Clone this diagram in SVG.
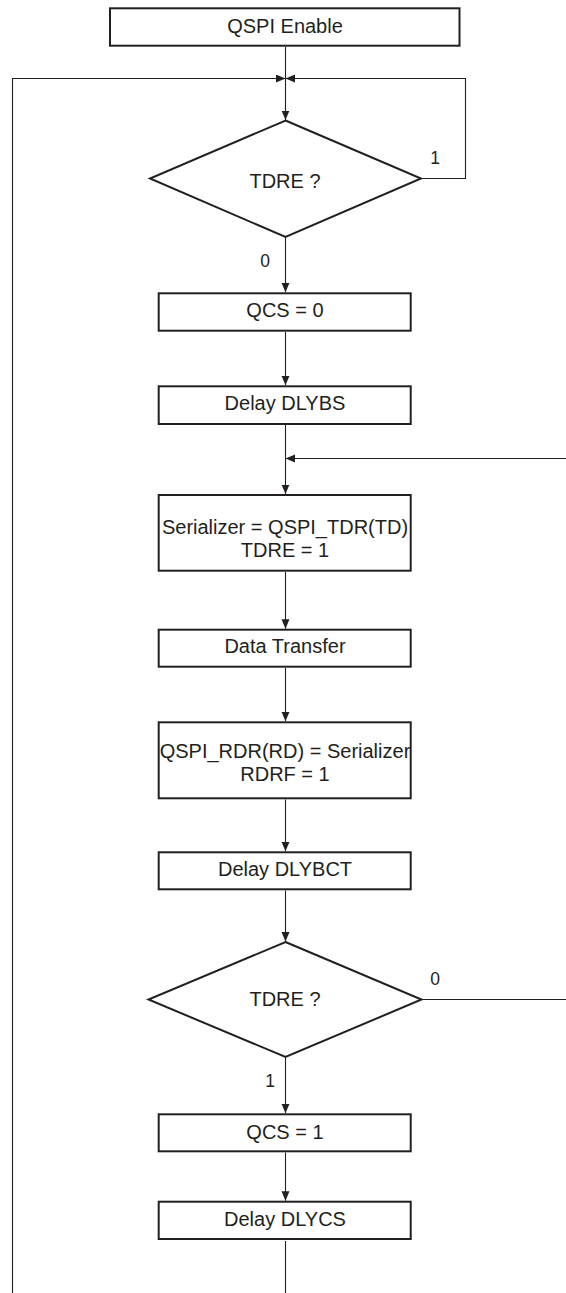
<svg xmlns="http://www.w3.org/2000/svg" width="566" height="1293" viewBox="0 0 566 1293">
<style>
.box{fill:#fff;stroke:#231f20;stroke-width:2}
.t{font-family:"Liberation Sans",Arial,sans-serif;font-size:20px;fill:#231f20;text-anchor:middle}
.l{font-family:"Liberation Sans",Arial,sans-serif;font-size:17.5px;fill:#231f20;text-anchor:middle}
.c{fill:none;stroke:#231f20;stroke-width:1.1}
</style>
<defs>
<marker id="ah" markerUnits="userSpaceOnUse" markerWidth="10" markerHeight="9" refX="9.5" refY="4" orient="auto">
<path d="M0,0 L9.5,4 L0,8 z" fill="#231f20"/>
</marker>
</defs>
<rect width="566" height="1293" fill="#fff"/>
<g id="connectors">
<path class="c" d="M285.5,47 V120" marker-end="url(#ah)"/>
<path class="c" d="M285.5,1241 V1300 H12.5 V78.5 H285.5" marker-end="url(#ah)"/>
<path class="c" d="M421,178.5 H465.5 V78.5 H285.5" marker-end="url(#ah)"/>
<path class="c" d="M285.5,237 V292.3" marker-end="url(#ah)"/>
<path class="c" d="M285.5,332 V385.3" marker-end="url(#ah)"/>
<path class="c" d="M285.5,425 V494" marker-end="url(#ah)"/>
<path class="c" d="M421.5,999.5 H575 V458.5 H285.5" marker-end="url(#ah)"/>
<path class="c" d="M285.5,572 V628.7" marker-end="url(#ah)"/>
<path class="c" d="M285.5,668 V721.3" marker-end="url(#ah)"/>
<path class="c" d="M285.5,799.5 V851.3" marker-end="url(#ah)"/>
<path class="c" d="M285.5,890.5 V941.5" marker-end="url(#ah)"/>
<path class="c" d="M285.5,1057 V1113.3" marker-end="url(#ah)"/>
<path class="c" d="M285.5,1152.5 V1200.7" marker-end="url(#ah)"/>
<text class="l" x="435" y="164">1</text>
<text class="l" x="265" y="267">0</text>
<text class="l" x="435" y="985">0</text>
<text class="l" x="270" y="1087">1</text>
</g>
<g id="qspi-enable">
<rect class="box" x="110" y="8.3" width="349.5" height="37.4"/>
<text class="t" x="285" y="32.5">QSPI Enable</text>
</g>
<g id="tdre-1">
<polygon class="box" points="285.5,120.5 421,178.5 285.5,237 150,178.5"/>
<text class="t" x="285" y="187.5">TDRE ?</text>
</g>
<g id="qcs-0">
<rect class="box" x="158.7" y="293.3" width="252" height="37.4"/>
<text class="t" x="285" y="317">QCS = 0</text>
</g>
<g id="delay-dlybs">
<rect class="box" x="158.7" y="386.3" width="252" height="37.7"/>
<text class="t" x="285" y="410">Delay DLYBS</text>
</g>
<g id="serializer">
<rect class="box" x="158.7" y="495" width="252" height="75.7"/>
<text class="t" x="285" y="533.5">Serializer = QSPI_TDR(TD)</text>
<text class="t" x="285" y="557.3">TDRE = 1</text>
</g>
<g id="data-transfer">
<rect class="box" x="158.7" y="629.7" width="252" height="37"/>
<text class="t" x="285" y="653">Data Transfer</text>
</g>
<g id="rdr">
<rect class="box" x="158.7" y="722.3" width="252" height="76"/>
<text class="t" x="285" y="757.5">QSPI_RDR(RD) = Serializer</text>
<text class="t" x="285" y="781">RDRF = 1</text>
</g>
<g id="delay-dlybct">
<rect class="box" x="158.7" y="852.3" width="252" height="37"/>
<text class="t" x="285" y="876">Delay DLYBCT</text>
</g>
<g id="tdre-2">
<polygon class="box" points="285.5,942 421.5,999.5 285.5,1057 148.5,999.5"/>
<text class="t" x="285" y="1005.5">TDRE ?</text>
</g>
<g id="qcs-1">
<rect class="box" x="158.7" y="1114.3" width="252" height="37"/>
<text class="t" x="285" y="1138.5">QCS = 1</text>
</g>
<g id="delay-dlycs">
<rect class="box" x="158.7" y="1201.7" width="252" height="37.3"/>
<text class="t" x="285" y="1225.5">Delay DLYCS</text>
</g>
</svg>
